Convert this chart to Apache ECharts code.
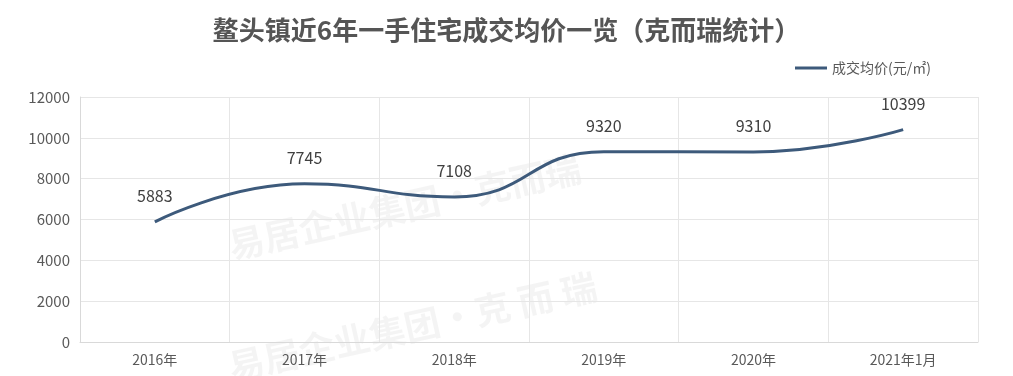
<!DOCTYPE html>
<html>
<head>
<meta charset="utf-8">
<script src="https://cdn.jsdelivr.net/npm/echarts@6/dist/echarts.min.js"></script>
<style>
  html, body { margin: 0; padding: 0; background: #fff; }
  #chart { width: 1013px; height: 376px; }
</style>
</head>
<body>
<div id="chart"></div>
<script>
// 年份 / 均价
let years = ['2016年', '2017年', '2018年', '2019年', '2020年', '2021年1月'];
let prices = [5883, 7745, 7108, 9320, 9310, 10399];
let yTicks = { min: 0, max: 12000, step: 2000 };

let chart = echarts.init(document.getElementById('chart'));
let font = '"Microsoft YaHei", "Noto Sans CJK SC", sans-serif';

chart.setOption({
    backgroundColor: '#fff',
    title: {
        text: '鳌头镇近6年一手住宅成交均价一览（克而瑞统计）',
        left: 'center',
        top: 12,
        textStyle: { fontFamily: font, fontSize: 26, fontWeight: 'bold', color: '#555' }
    },
    legend: {
        left: 790,
        top: 56,
        itemWidth: 32,
        itemHeight: 3,
        itemGap: 6,
        icon: 'rect',
        textStyle: { fontFamily: font, fontSize: 14, color: '#595959' },
        data: ['成交均价(元/㎡)']
    },
    grid: { left: 80, right: 35, top: 97, bottom: 34 },
    xAxis: {
        type: 'category',
        data: years,
        boundaryGap: true,
        axisLine: { lineStyle: { color: '#d9d9d9' } },
        axisTick: { show: false },
        splitLine: { show: true, lineStyle: { color: '#e6e6e6' } },
        axisLabel: { fontFamily: font, fontSize: 14, color: '#595959', margin: 11 }
    },
    yAxis: {
        type: 'value',
        min: yTicks.min,
        max: yTicks.max,
        interval: yTicks.step,
        axisLine: { show: true, lineStyle: { color: '#d9d9d9' } },
        axisTick: { show: false },
        splitLine: { lineStyle: { color: '#e6e6e6' } },
        axisLabel: {
            fontFamily: font, fontSize: 15, color: '#595959', margin: 10,
            formatter: function (v) { return String(v); }
        }
    },
    graphic: [
        {
            type: 'text', left: 225, top: 150, rotation: 0.22, silent: true,
            style: { text: '易居企业集团·克而瑞', font: 'bold 36px ' + font, fill: 'rgba(0,0,0,0.045)' }
        },
        {
            type: 'text', left: 225, top: 268, rotation: 0.22, silent: true,
            style: { text: '易居企业集团·克 而 瑞', font: 'bold 36px ' + font, fill: 'rgba(0,0,0,0.045)' }
        }
    ],
    series: [{
        name: '成交均价(元/㎡)',
        type: 'line',
        data: prices,
        smooth: 0.5,
        symbol: 'circle',
        symbolSize: 0.1,
        lineStyle: { color: '#3d5a7b', width: 3 },
        itemStyle: { color: '#3d5a7b' },
        label: {
            show: true,
            position: 'top',
            distance: 18,
            fontFamily: font,
            fontSize: 16,
            color: '#404040'
        }
    }]
});
</script>
</body>
</html>
